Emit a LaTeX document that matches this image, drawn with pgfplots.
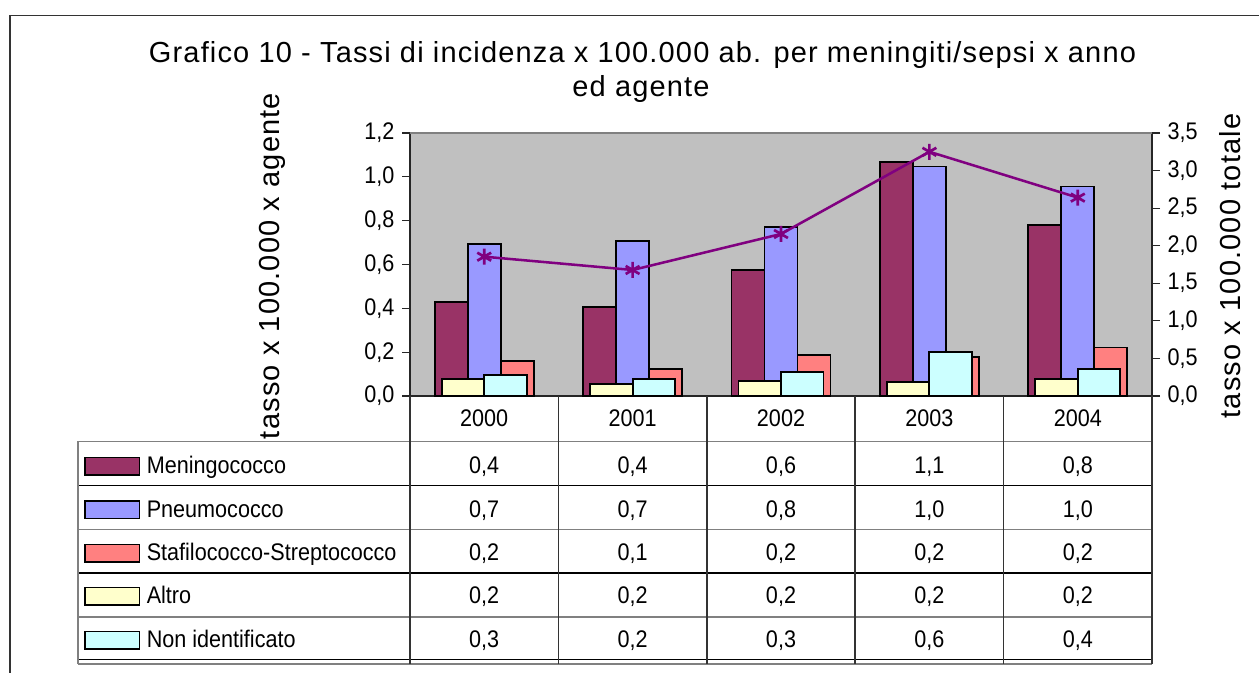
\documentclass[border=0pt]{standalone}
\usepackage{pgfplots}
\pgfplotsset{compat=1.18}
\usepackage{fontspec}
\setmainfont{Liberation Sans}
\newfontfamily\spaced[LetterSpace=4]{Liberation Sans}
\newfontfamily\narrow[FakeStretch=0.9]{Liberation Sans}
\definecolor{mening}{HTML}{993366}
\definecolor{pneumo}{HTML}{9999FF}
\definecolor{stafi}{HTML}{FF8080}
\definecolor{altro}{HTML}{FFFFCC}
\definecolor{nonid}{HTML}{CCFFFF}
\definecolor{linec}{HTML}{800080}
\definecolor{plotbg}{HTML}{C0C0C0}
\definecolor{gridg}{HTML}{808080}
\newcommand\bigf{\spaced\fontsize{21.75pt}{24pt}\selectfont}
\newcommand\smallf{\narrow\fontsize{18pt}{20pt}\selectfont}
\newcommand\vrow[6]{%
  \node[anchor=base,font=\smallf,inner sep=0pt] at (484.2,#1) {#2};
  \node[anchor=base,font=\smallf,inner sep=0pt] at (632.6,#1) {#3};
  \node[anchor=base,font=\smallf,inner sep=0pt] at (781,#1) {#4};
  \node[anchor=base,font=\smallf,inner sep=0pt] at (929.4,#1) {#5};
  \node[anchor=base,font=\smallf,inner sep=0pt] at (1077.8,#1) {#6};}
\newcommand\krow[3]{%
  \draw[fill=#2,draw=black,line width=1.4pt] (85,#1-16.5) rectangle (139.5,#1+1);
  \node[anchor=base west,font=\smallf,inner sep=0pt] at (146.5,#1) {#3};}
\begin{document}
\begin{tikzpicture}
\useasboundingbox (0,0) rectangle (944.25pt,504.75pt);

\begin{axis}[
  at={(307.5pt,207.75pt)}, anchor=south west,
  scale only axis, width=556.5pt, height=197.25pt,
  xmin=-0.5, xmax=4.5, ymin=0, ymax=1.2,
  xtick=\empty,
  ytick={0,0.2,0.4,0.6,0.8,1.0,1.2},
  axis x line*=bottom, axis y line*=left,
  axis line style={line width=1pt,black!85,-},
  axis background/.style={fill=plotbg},
  tick align=outside, major tick length=6pt,
  tick style={line width=0.8pt,black!85},
  /pgf/number format/assume math mode=true,
  yticklabel style={font=\smallf,xshift=-2.25pt,/pgf/number format/.cd,fixed,fixed zerofill,precision=1,use comma},
  ybar, bar width=24.75pt,
  clip=false,
]
\addplot[fill=mening,draw=black,line width=1.4pt,bar shift=-24.75pt] coordinates {(0,0.43) (1,0.408) (2,0.575) (3,1.067) (4,0.782)};
\addplot[fill=pneumo,draw=black,line width=1.4pt,bar shift=0pt] coordinates {(0,0.694) (1,0.706) (2,0.770) (3,1.047) (4,0.956)};
\addplot[fill=stafi,draw=black,line width=1.4pt,bar shift=24.75pt] coordinates {(0,0.158) (1,0.123) (2,0.189) (3,0.178) (4,0.221)};
\addplot[fill=altro,draw=black,line width=1.4pt,bar shift=-15.94pt,bar width=31.9pt] coordinates {(0,0.078) (1,0.055) (2,0.068) (3,0.064) (4,0.078)};
\addplot[fill=nonid,draw=black,line width=1.4pt,bar shift=15.94pt,bar width=31.9pt] coordinates {(0,0.096) (1,0.078) (2,0.110) (3,0.202) (4,0.123)};
\end{axis}

\begin{axis}[
  at={(307.5pt,207.75pt)}, anchor=south west,
  scale only axis, width=556.5pt, height=197.25pt,
  xmin=-0.5, xmax=4.5, ymin=0, ymax=3.5,
  xtick=\empty,
  ytick={0,0.5,1.0,1.5,2.0,2.5,3.0,3.5},
  axis x line=none, axis y line*=right,
  axis line style={line width=1pt,black!85,-},
  tick align=outside, major tick length=6pt,
  tick style={line width=0.8pt,black!85},
  /pgf/number format/assume math mode=true,
  yticklabel style={font=\smallf,xshift=2.25pt,/pgf/number format/.cd,fixed,fixed zerofill,precision=1,use comma},
  clip=false,
]
\addplot[linec,line width=1.9pt,mark=asterisk,mark size=6pt,mark options={line width=2pt}] coordinates {(0,1.854) (1,1.677) (2,2.156) (3,3.25) (4,2.64)};
\end{axis}

\begin{scope}[x=0.75pt,y=-0.75pt,shift={(0,504.75pt)}]
% outer frame
\draw[line width=1pt,black!80] (10,673) -- (10,15.5) -- (1259,15.5);
% title
\node[anchor=base,font=\bigf,inner sep=0pt] at (642.5,62.7) {Grafico 10 - Tassi di incidenza x 100.000 ab. per meningiti/sepsi x anno};
\node[anchor=base,font=\bigf,inner sep=0pt] at (641,96.7) {ed agente};
% axis labels
\node[rotate=90,anchor=base,font=\bigf,inner sep=0pt] at (279.5,266) {tasso x 100.000 x agente};
\node[rotate=90,anchor=base,font=\bigf,inner sep=0pt] at (1240,266) {tasso x 100.000 totale};
% plot area top border
\draw[gridg,line width=1pt] (410,133) -- (1152,133);
% table grid
\foreach \yy/\cc in {441.5/gridg,485.5/black,529.5/gridg,573/black,617/gridg,659.5/black,664/gridg}
  \draw[\cc,line width=0.9pt] (78,\yy) -- (1152,\yy);
\draw[gridg,line width=0.9pt] (78,441.5) -- (78,664);
\foreach \xx in {410,558.5,707,855,1003.5,1152}
  \draw[black!80,line width=0.9pt] (\xx,396) -- (\xx,664);
% year headers
\vrow{426.7}{2000}{2001}{2002}{2003}{2004}
% legend keys
\krow{474}{mening}{Meningococco}
\krow{517.5}{pneumo}{Pneumococco}
\krow{561}{stafi}{Stafilococco-Streptococco}
\krow{604}{altro}{Altro}
\krow{648}{nonid}{Non identificato}
% values
\vrow{474}{0,4}{0,4}{0,6}{1,1}{0,8}
\vrow{517.5}{0,7}{0,7}{0,8}{1,0}{1,0}
\vrow{561}{0,2}{0,1}{0,2}{0,2}{0,2}
\vrow{604}{0,2}{0,2}{0,2}{0,2}{0,2}
\vrow{648}{0,3}{0,2}{0,3}{0,6}{0,4}
\end{scope}
\end{tikzpicture}
\end{document}
